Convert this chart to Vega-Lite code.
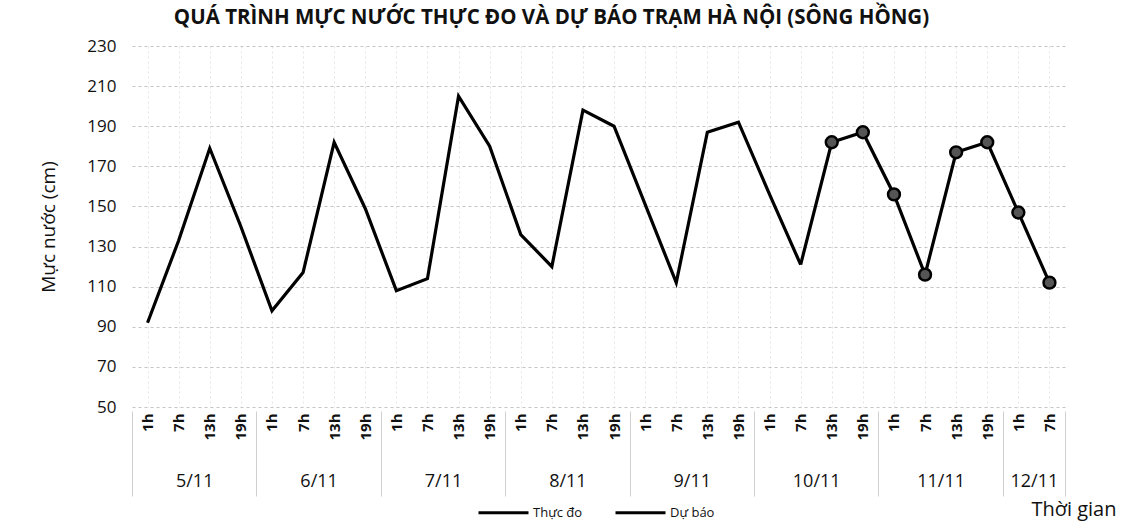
{
  "$schema": "https://vega.github.io/schema/vega-lite/v6.json",
  "autosize": "none",
  "width": 933,
  "height": 361,
  "padding": {"left": 132, "top": 46, "right": 58, "bottom": 117},
  "background": "white",
  "title": {
    "text": "QUÁ TRÌNH MỰC NƯỚC THỰC ĐO VÀ DỰ BÁO TRẠM HÀ NỘI (SÔNG HỒNG)",
    "font": "Open Sans",
    "fontSize": 20.5,
    "fontWeight": "bold",
    "color": "#111",
    "anchor": "middle",
    "dx": -47,
    "offset": 9
  },
  "config": {
    "view": {"stroke": null},
    "axis": {"labelFont": "Open Sans", "titleFont": "Open Sans", "labelColor": "#111", "titleColor": "#111"}
  },
  "data": {
    "values": [
      {"idx": 0, "day": "5/11", "hour": "1h", "level": 92, "series": "Thực đo"},
      {"idx": 1, "day": "5/11", "hour": "7h", "level": 133, "series": "Thực đo"},
      {"idx": 2, "day": "5/11", "hour": "13h", "level": 179, "series": "Thực đo"},
      {"idx": 3, "day": "5/11", "hour": "19h", "level": 140, "series": "Thực đo"},
      {"idx": 4, "day": "6/11", "hour": "1h", "level": 98, "series": "Thực đo"},
      {"idx": 5, "day": "6/11", "hour": "7h", "level": 117, "series": "Thực đo"},
      {"idx": 6, "day": "6/11", "hour": "13h", "level": 182, "series": "Thực đo"},
      {"idx": 7, "day": "6/11", "hour": "19h", "level": 149, "series": "Thực đo"},
      {"idx": 8, "day": "7/11", "hour": "1h", "level": 108, "series": "Thực đo"},
      {"idx": 9, "day": "7/11", "hour": "7h", "level": 114, "series": "Thực đo"},
      {"idx": 10, "day": "7/11", "hour": "13h", "level": 205, "series": "Thực đo"},
      {"idx": 11, "day": "7/11", "hour": "19h", "level": 180, "series": "Thực đo"},
      {"idx": 12, "day": "8/11", "hour": "1h", "level": 136, "series": "Thực đo"},
      {"idx": 13, "day": "8/11", "hour": "7h", "level": 120, "series": "Thực đo"},
      {"idx": 14, "day": "8/11", "hour": "13h", "level": 198, "series": "Thực đo"},
      {"idx": 15, "day": "8/11", "hour": "19h", "level": 190, "series": "Thực đo"},
      {"idx": 16, "day": "9/11", "hour": "1h", "level": 151, "series": "Thực đo"},
      {"idx": 17, "day": "9/11", "hour": "7h", "level": 112, "series": "Thực đo"},
      {"idx": 18, "day": "9/11", "hour": "13h", "level": 187, "series": "Thực đo"},
      {"idx": 19, "day": "9/11", "hour": "19h", "level": 192, "series": "Thực đo"},
      {"idx": 20, "day": "10/11", "hour": "1h", "level": 156, "series": "Thực đo"},
      {"idx": 21, "day": "10/11", "hour": "7h", "level": 121, "series": "Thực đo"},
      {"idx": 21, "day": "10/11", "hour": "7h", "level": 121, "series": "Dự báo", "mark": "no"},
      {"idx": 22, "day": "10/11", "hour": "13h", "level": 182, "series": "Dự báo", "mark": "yes"},
      {"idx": 23, "day": "10/11", "hour": "19h", "level": 187, "series": "Dự báo", "mark": "yes"},
      {"idx": 24, "day": "11/11", "hour": "1h", "level": 156, "series": "Dự báo", "mark": "yes"},
      {"idx": 25, "day": "11/11", "hour": "7h", "level": 116, "series": "Dự báo", "mark": "yes"},
      {"idx": 26, "day": "11/11", "hour": "13h", "level": 177, "series": "Dự báo", "mark": "yes"},
      {"idx": 27, "day": "11/11", "hour": "19h", "level": 182, "series": "Dự báo", "mark": "yes"},
      {"idx": 28, "day": "12/11", "hour": "1h", "level": 147, "series": "Dự báo", "mark": "yes"},
      {"idx": 29, "day": "12/11", "hour": "7h", "level": 112, "series": "Dự báo", "mark": "yes"}
    ]
  },
  "resolve": {"axis": {"x": "independent"}},
  "layer": [
    {
      "mark": {"type": "line", "strokeWidth": 3.2},
      "encoding": {
        "x": {
          "field": "idx", "type": "quantitative",
          "scale": {"domain": [-0.5, 29.5], "nice": false, "zero": false},
          "axis": {
            "orient": "bottom",
            "values": [0,1,2,3,4,5,6,7,8,9,10,11,12,13,14,15,16,17,18,19,20,21,22,23,24,25,26,27,28,29],
            "labelExpr": "['1h','7h','13h','19h'][datum.value % 4]",
            "labelAngle": -90,
            "labelFontSize": 15,
            "labelFontWeight": "bold",
            "labelPadding": 6,
            "labelFlush": false,
            "labelOverlap": false,
            "ticks": false,
            "domain": false,
            "grid": true,
            "gridColor": "#e4e4e4",
            "gridDash": [2, 3],
            "title": null
          }
        },
        "y": {
          "field": "level", "type": "quantitative",
          "scale": {"domain": [50, 230], "nice": false, "zero": false},
          "axis": {
            "values": [50,70,90,110,130,150,170,190,210,230],
            "labelFontSize": 17,
            "labelPadding": 16,
            "ticks": false,
            "domain": false,
            "gridColor": "#c4c4c4",
            "gridDash": [3, 3],
            "title": "Mực nước (cm)",
            "titleFontSize": 19,
            "titleFontWeight": "normal",
            "titlePadding": 28
          }
        },
        "color": {
          "field": "series", "type": "nominal",
          "scale": {"domain": ["Thực đo", "Dự báo"], "range": ["#000000", "#000000"]},
          "legend": {
            "title": null,
            "orient": "none",
            "legendX": 345,
            "legendY": 440,
            "direction": "horizontal",
            "symbolType": "stroke",
            "symbolSize": 2500,
            "symbolStrokeWidth": 3,
            "labelFont": "Open Sans",
            "labelFontSize": 13,
            "labelColor": "#111",
            "labelOffset": 3,
            "columnPadding": 26
          }
        },
        "detail": {"field": "series"}
      }
    },
    {
      "transform": [{"filter": "datum.mark == 'yes'"}],
      "mark": {"type": "point", "filled": true, "fill": "#555555", "stroke": "#000000", "strokeWidth": 2.5, "size": 140, "opacity": 1},
      "encoding": {
        "x": {"field": "idx", "type": "quantitative", "axis": null},
        "y": {"field": "level", "type": "quantitative"}
      }
    },
    {
      "mark": {"type": "rule", "opacity": 0},
      "encoding": {
        "x": {
          "field": "idx", "type": "quantitative",
          "axis": {
            "orient": "bottom",
            "offset": 62,
            "values": [1.5, 5.5, 9.5, 13.5, 17.5, 21.5, 25.5, 28.5],
            "labelExpr": "{'1.5':'5/11','5.5':'6/11','9.5':'7/11','13.5':'8/11','17.5':'9/11','21.5':'10/11','25.5':'11/11','28.5':'12/11'}[datum.value + '']",
            "labelFontSize": 18,
            "labelPadding": 3,
            "labelFlush": false,
            "labelOverlap": false,
            "ticks": false,
            "domain": false,
            "grid": false,
            "title": "Thời gian",
            "titleFontSize": 20,
            "titleFontWeight": "normal",
            "titleAlign": "right",
            "titleAnchor": "end",
            "titleX": 984,
            "titleY": 40,
            "titleBaseline": "middle"
          }
        }
      }
    },
    {
      "mark": {"type": "rule", "opacity": 0},
      "encoding": {
        "x": {
          "field": "idx", "type": "quantitative",
          "axis": {
            "orient": "bottom",
            "offset": 4,
            "values": [-0.5, 3.5, 7.5, 11.5, 15.5, 19.5, 23.5, 27.5, 29.5],
            "labels": false,
            "ticks": true,
            "tickSize": 85,
            "tickColor": "#d0d0d0",
            "tickWidth": 1,
            "domain": false,
            "grid": false,
            "title": null
          }
        }
      }
    }
  ]
}
